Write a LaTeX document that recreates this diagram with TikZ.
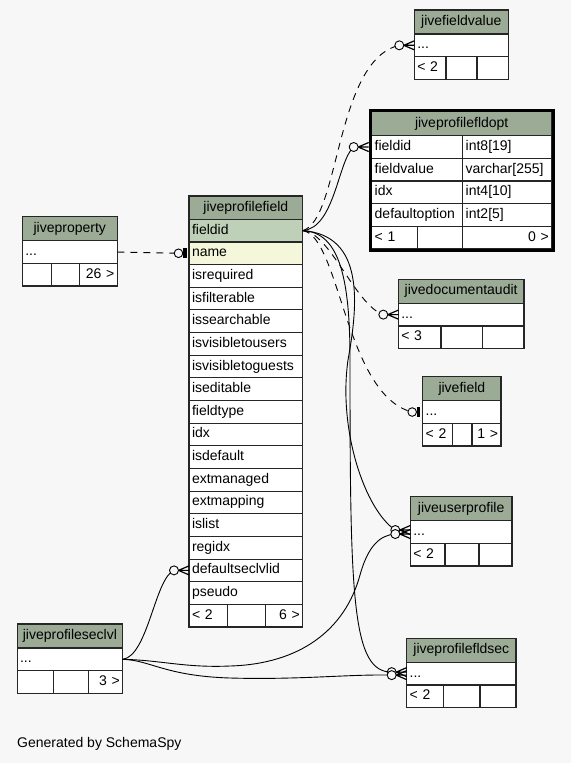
\documentclass[tikz,border=0pt]{standalone}
\usepackage{fontspec}
\setmainfont{Liberation Sans}
\usetikzlibrary{fit}
\definecolor{headbg}{HTML}{9BAB96}
\definecolor{pkbg}{HTML}{BED1B8}
\definecolor{idxbg}{HTML}{F4F7DA}
\definecolor{bgc}{HTML}{F7F7F7}

\begin{document}
\begin{tikzpicture}[x=1pt, y=-1pt, font=\fontsize{14}{16}\selectfont,
    tline/.style={draw=black!85, line width=1.1pt, outer sep=0pt},
    thead/.style={tline, fill=headbg, anchor=north west, inner sep=0pt, minimum width=#1, minimum height=24pt, text height=10pt, text depth=3pt},
    tcell/.style={tline, fill=white, anchor=north west, inner xsep=3pt, inner ysep=0pt, text width=#1, align=left, minimum height=22.65pt, text height=10pt, text depth=3pt},
    tcellr/.style={tcell=#1, align=right},
    rel/.style={line width=0.9pt},
    optrel/.style={rel, dash pattern=on 7pt off 6pt},
    manyend/.pic={
        \draw[line width=1.2pt] (-10.5,0) -- (0,-4.5) (-10.5,0) -- (0,0) (-10.5,0) -- (0,4.5);
        \draw[rel, fill=bgc] (-15,0) circle (4.5pt);
    },
    oneend/.pic={
        \fill (-5.6,-5) rectangle (-2.4,5);
        \draw[rel, fill=bgc] (-10.5,0) circle (4.3pt);
    }]

    \fill[bgc] (0,0) rectangle (571,763);

    % jivefieldvalue
    \node[thead=94pt] (fv) at (414.3,10) {jivefieldvalue};
    \node[tcell=88pt] (fv-dots) at (fv.south west) {...};
    \node[tcell=25.7pt] (fv-f1) at (fv-dots.south west) {< 2};
    \node[tcell=25pt] (fv-f2) at (fv-f1.north east) {};
    \node[tcell=25.3pt] (fv-f3) at (fv-f2.north east) {};

    % jiveprofilefldopt
    \node[thead=180pt] (fo) at (371.7,111.7) {jiveprofilefldopt};
    \foreach \f/\ty [count=\i from 0] in {fieldid/int8[19],fieldvalue/varchar[255],idx/int4[10],defaultoption/int2[5]}
    {
        \node[tcell=85pt] (fo-\f) at (371.7,{135.7+22.65*\i}) {\f};
        \node[tcell=83pt] (fo-\f-type) at (fo-\f.north east) {\ty};
    }
    \node[tcell=39.6pt] (fo-f1) at (371.7,226.3) {< 1};
    \node[tcell=39.4pt] (fo-f2) at (fo-f1.north east) {};
    \node[tcellr=83pt] (fo-f3) at (fo-f2.north east) {0 >};
    \node[draw, line width=3pt, inner sep=1.5pt, fit=(fo)(fo-f3)] (fo-box) {};

    % jiveprofilefield
    \node[thead=113.7pt, minimum height=23.3pt] (pf) at (189,196) {jiveprofilefield};
    \node[tcell=107.7pt, fill=pkbg] (pf-fieldid) at (pf.south west) {fieldid};
    \node[tcell=107.7pt, fill=idxbg] (pf-name) at (pf-fieldid.south west) {name};
    \foreach \f [count=\i from 2] in {isrequired,isfilterable,issearchable,isvisibletousers,isvisibletoguests,iseditable,fieldtype,idx,isdefault,extmanaged,extmapping,islist,regidx,defaultseclvlid,pseudo}
        \node[tcell=107.7pt] (pf-\f) at (189,{219.3+22.65*\i}) {\f};
    \node[tcell=32.7pt] (pf-f1) at (189,604.35) {< 2};
    \node[tcell=31.6pt] (pf-f2) at (pf-f1.north east) {};
    \node[tcellr=31.4pt] (pf-f3) at (pf-f2.north east) {6 >};

    % jiveproperty
    \node[thead=95pt] (jp) at (22.3,216.7) {jiveproperty};
    \node[tcell=89pt] (jp-dots) at (jp.south west) {...};
    \node[tcell=23.4pt] (jp-f1) at (jp-dots.south west) {};
    \node[tcell=21.6pt] (jp-f2) at (jp-f1.north east) {};
    \node[tcellr=32pt] (jp-f3) at (jp-f2.north east) {26 >};

    % jivedocumentaudit
    \node[thead=125.7pt] (da) at (398.3,279.3) {jivedocumentaudit};
    \node[tcell=119.7pt] (da-dots) at (da.south west) {...};
    \node[tcell=36.7pt] (da-f1) at (da-dots.south west) {< 3};
    \node[tcell=35.7pt] (da-f2) at (da-f1.north east) {};
    \node[tcell=35.3pt] (da-f3) at (da-f2.north east) {};

    % jivefield
    \node[thead=78.3pt] (jf) at (422.7,376.7) {jivefield};
    \node[tcell=72.3pt] (jf-dots) at (jf.south west) {...};
    \node[tcell=24pt] (jf-f1) at (jf-dots.south west) {< 2};
    \node[tcell=13.3pt] (jf-f2) at (jf-f1.north east) {};
    \node[tcellr=23pt] (jf-f3) at (jf-f2.north east) {1 >};

    % jiveuserprofile
    \node[thead=101.7pt] (up) at (410.3,496.7) {jiveuserprofile};
    \node[tcell=95.7pt] (up-dots) at (up.south west) {...};
    \node[tcell=28.7pt] (up-f1) at (up-dots.south west) {< 2};
    \node[tcell=28pt] (up-f2) at (up-f1.north east) {};
    \node[tcell=27pt] (up-f3) at (up-f2.north east) {};

    % jiveprofilefldsec
    \node[thead=109.3pt] (fs) at (406.7,638.3) {jiveprofilefldsec};
    \node[tcell=103.3pt] (fs-dots) at (fs.south west) {...};
    \node[tcell=31pt] (fs-f1) at (fs-dots.south west) {< 2};
    \node[tcell=30.3pt] (fs-f2) at (fs-f1.north east) {};
    \node[tcell=30pt] (fs-f3) at (fs-f2.north east) {};

    % jiveprofileseclvl
    \node[thead=105.6pt] (sl) at (17.1,624) {jiveprofileseclvl};
    \node[tcell=99.6pt] (sl-dots) at (sl.south west) {...};
    \node[tcell=30.1pt] (sl-f1) at (sl-dots.south west) {};
    \node[tcell=28.9pt] (sl-f2) at (sl-f1.north east) {};
    \node[tcellr=28.6pt] (sl-f3) at (sl-f2.north east) {3 >};

    % relations
    \draw[optrel] (pf-fieldid.east) .. controls (340,220) and (335,60) .. ([xshift=-15pt]fv-dots.west);
    \draw[rel] (pf-fieldid.east) .. controls (335,228) and (338,160) .. ([xshift=-18pt]fo-fieldid.west);
    \draw[optrel] (pf-fieldid.east) .. controls (330,232) and (355,305) .. ([xshift=-15pt]da-dots.west);
    \draw[optrel] (pf-fieldid.east) .. controls (340,236) and (345,395) .. ([xshift=-10.5pt]jf-dots.west);
    \draw[rel] (pf-fieldid.east) .. controls (365,235) and (358,305) .. (348,360)
        .. controls (338,430) and (365,510) .. ([xshift=-15pt,yshift=2pt]up-dots.west);
    \draw[rel] (pf-fieldid.east) .. controls (340,232) and (350,280) .. (350,360)
        .. controls (350,600) and (352,672) .. ([xshift=-15pt,yshift=1.5pt]fs-dots.west);
    \draw[optrel] (jp-dots.east) -- ([xshift=-10.5pt]pf-name.west);
    \draw[rel] (sl-dots.east) .. controls (148,656) and (155,578) .. ([xshift=-15pt]pf-defaultseclvlid.west);
    \draw[rel] (sl-dots.east) .. controls (160,660) and (185,668) .. (230,666)
        .. controls (300,664) and (345,630) .. (360,575)
        .. controls (368,546) and (380,535) .. ([xshift=-15pt,yshift=-2pt]up-dots.west);
    \draw[rel] (sl-dots.east) .. controls (150,660) and (165,676) .. (230,678)
        .. controls (300,680) and (350,674) .. ([xshift=-15pt,yshift=-1.5pt]fs-dots.west);

    \pic at (fv-dots.west) {manyend};
    \pic at ([xshift=-3pt]fo-fieldid.west) {manyend};
    \pic at (da-dots.west) {manyend};
    \pic at (jf-dots.west) {oneend};
    \pic at (pf-name.west) {oneend};
    \pic at (pf-defaultseclvlid.west) {manyend};
    \pic[yshift=2pt] at (up-dots.west) {manyend};
    \pic[yshift=-2pt] at (up-dots.west) {manyend};
    \pic[yshift=1.5pt] at (fs-dots.west) {manyend};
    \pic[yshift=-1.5pt] at (fs-dots.west) {manyend};

    \node[anchor=base west, inner sep=0pt] (gen) at (17,747.5) {Generated by SchemaSpy};
\end{tikzpicture}
\end{document}
